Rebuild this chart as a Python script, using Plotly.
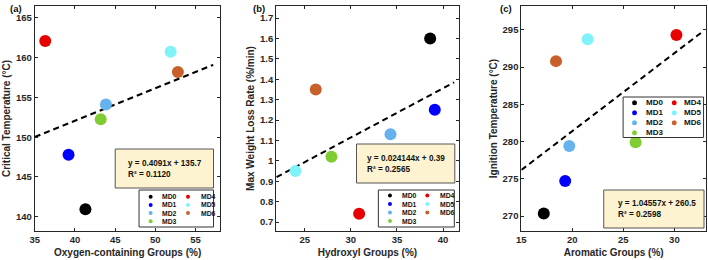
import plotly.graph_objects as go

# ---------------- data ----------------
samples = ["MD0", "MD1", "MD2", "MD3", "MD4", "MD5", "MD6"]
colors = ["#000000", "#0000FF", "#64B2EE", "#7FCC33", "#E60000", "#80F2FA", "#C8602C"]

oxygen_groups = [41.3, 39.2, 43.85, 43.2, 36.3, 51.9, 52.8]
critical_temp = [140.95, 147.8, 154.1, 152.25, 162.1, 160.75, 158.2]

hydroxyl_groups = [38.6, 39.1, 34.3, 27.9, 30.9, 24.0, 26.2]
max_loss_rate = [1.60, 1.25, 1.13, 1.02, 0.74, 0.95, 1.35]

aromatic_groups = [17.2, 19.3, 19.7, 26.2, 30.2, 21.5, 18.4]
ignition_temp = [270.35, 274.7, 279.4, 279.9, 294.3, 293.75, 290.8]

fit_slope = [0.4091, 0.024144, 1.04557]
fit_intercept = [135.7, 0.39, 260.5]
fit_x_start = [35.0, 21.95, 15.0]
fit_x_end = [57.2, 41.2, 32.6]
fit_text = ["y = 0.4091x + 135.7<br>R² = 0.1120",
            "y = 0.024144x + 0.39<br>R² = 0.2565",
            "y = 1.04557x + 260.5<br>R² = 0.2598"]

panel_labels = ["(a)", "(b)", "(c)"]
x_titles = ["Oxygen-containing Groups (%)", "Hydroxyl Groups (%)", "Aromatic Groups (%)"]
y_titles = ["Critical Temperature (°C)", "Max Weight Loss Rate (%/min)", "Ignition Temperature (°C)"]

x_ranges = [[35, 58.1], [21.9, 41.7], [15, 33.1]]
y_ranges = [[138.2, 166.5], [0.656, 1.759], [268.0, 298.2]]
x_tickvals = [[35, 40, 45, 50, 55], [25, 30, 35, 40], [15, 20, 25, 30]]
y_tickvals = [[140, 145, 150, 155, 160, 165],
              [0.7, 0.8, 0.9, 1.0, 1.1, 1.2, 1.3, 1.4, 1.5, 1.6, 1.7],
              [270, 275, 280, 285, 290, 295]]

xs = [oxygen_groups, hydroxyl_groups, aromatic_groups]
ys = [critical_temp, max_loss_rate, ignition_temp]

# ---------------- layout geometry (pixels) ----------------
W, H = 708, 260
plot_x = [(30, 217), (273, 457), (520, 706)]
plot_top, plot_bottom = 6, 231

eq_box = [(111, 149, 210, 188), (354, 144, 453, 183), (603, 190, 704, 228)]
eq_text_x = [122, 363, 615]

leg_box = [(135, 190, 210, 227), (376, 190, 452.5, 227), (622.5, 97, 703.5, 137.5)]
leg_row0 = [196.7, 195.5, 102.7]
leg_dy = [8.2, 8.5, 10.0]
leg_font = [6.8, 6.8, 8.0]
leg_msize = [4.0, 4.0, 5.0]
leg_mx = [(11.7, 49.3), (11.7, 49.3), (11.5, 51.5)]
leg_tx = [(21.5, 60.0), (21.5, 60.0), (21.5, 59.2)]

label_right = [19, 264, 513]

FONT = "Liberation Sans, Arial, Helvetica, sans-serif"
AX = "#262626"


def px(x):
    return x / W


def py(y):
    return 1 - y / H


fig = go.Figure()
shapes = []
annotations = []

for p in range(3):
    xa = "x" if p == 0 else f"x{p + 1}"
    ya = "y" if p == 0 else f"y{p + 1}"
    # trend line
    x0, x1 = fit_x_start[p], fit_x_end[p]
    fig.add_trace(go.Scatter(
        x=[x0, x1],
        y=[fit_slope[p] * x0 + fit_intercept[p], fit_slope[p] * x1 + fit_intercept[p]],
        mode="lines", line=dict(color="black", width=2, dash="6px,4px"),
        xaxis=xa, yaxis=ya, showlegend=False, hoverinfo="skip"))
    # points
    for i, s in enumerate(samples):
        fig.add_trace(go.Scatter(
            x=[xs[p][i]], y=[ys[p][i]], mode="markers", name=s,
            marker=dict(color=colors[i], size=12, line=dict(width=0)),
            xaxis=xa, yaxis=ya, showlegend=False))

    ax_common = dict(showline=True, linecolor=AX, linewidth=1, mirror="ticks",
                     ticks="inside", ticklen=3, tickcolor=AX, tickwidth=1,
                     showgrid=False, zeroline=False,
                     tickfont=dict(family=FONT, size=9.5, color=AX, weight="bold"),
                     title_font=dict(family=FONT, size=10, color=AX, weight="bold"))
    l, r = plot_x[p]
    fig.update_layout(**{
        ("xaxis" if p == 0 else f"xaxis{p + 1}"): dict(
            ax_common, domain=[px(l), px(r)], range=x_ranges[p], tickvals=x_tickvals[p],
            anchor=ya, title=dict(text=x_titles[p], standoff=4)),
        ("yaxis" if p == 0 else f"yaxis{p + 1}"): dict(
            ax_common, domain=[py(plot_bottom), py(plot_top)], range=y_ranges[p],
            tickvals=y_tickvals[p], anchor=xa, title=dict(text=y_titles[p], standoff=3)),
    })

    # equation box
    bx0, by0, bx1, by1 = eq_box[p]
    shapes.append(dict(type="rect", xref="paper", yref="paper",
                       x0=px(bx0), x1=px(bx1), y0=py(by1), y1=py(by0),
                       fillcolor="#FDF3D0", line=dict(color="#555555", width=1), layer="above"))
    annotations.append(dict(xref="paper", yref="paper", x=px(eq_text_x[p]), y=py((by0 + by1) / 2),
                            xanchor="left", yanchor="middle", align="left", showarrow=False,
                            text=fit_text[p],
                            font=dict(family=FONT, size=8.2, color="#111111", weight="bold")))

    # legend
    lx0, ly0, lx1, ly1 = leg_box[p]
    shapes.append(dict(type="rect", xref="paper", yref="paper",
                       x0=px(lx0), x1=px(lx1), y0=py(ly1), y1=py(ly0),
                       fillcolor="white", line=dict(color="#333333", width=1), layer="above"))
    for i, s in enumerate(samples):
        col = 0 if i < 4 else 1
        row = i if i < 4 else i - 4
        cy = leg_row0[p] + row * leg_dy[p]
        mx = lx0 + leg_mx[p][col]
        rr = leg_msize[p] / 2
        shapes.append(dict(type="circle", xref="paper", yref="paper",
                           x0=px(mx - rr), x1=px(mx + rr), y0=py(cy + rr), y1=py(cy - rr),
                           fillcolor=colors[i], line=dict(width=0), layer="above"))
        annotations.append(dict(xref="paper", yref="paper", x=px(lx0 + leg_tx[p][col]), y=py(cy),
                                xanchor="left", yanchor="middle", showarrow=False, text=s,
                                font=dict(family=FONT, size=leg_font[p], color="#111111", weight="bold")))

    # panel label
    annotations.append(dict(xref="paper", yref="paper", x=px(label_right[p]), y=py(8),
                            xanchor="right", yanchor="middle", showarrow=False,
                            text=panel_labels[p],
                            font=dict(family=FONT, size=9.5, color="#111111", weight="bold")))

fig.update_layout(width=W, height=H, margin=dict(l=0, r=0, t=0, b=0),
                  paper_bgcolor="white", plot_bgcolor="white",
                  shapes=shapes, annotations=annotations, showlegend=False)

fig.write_html("out.html")
